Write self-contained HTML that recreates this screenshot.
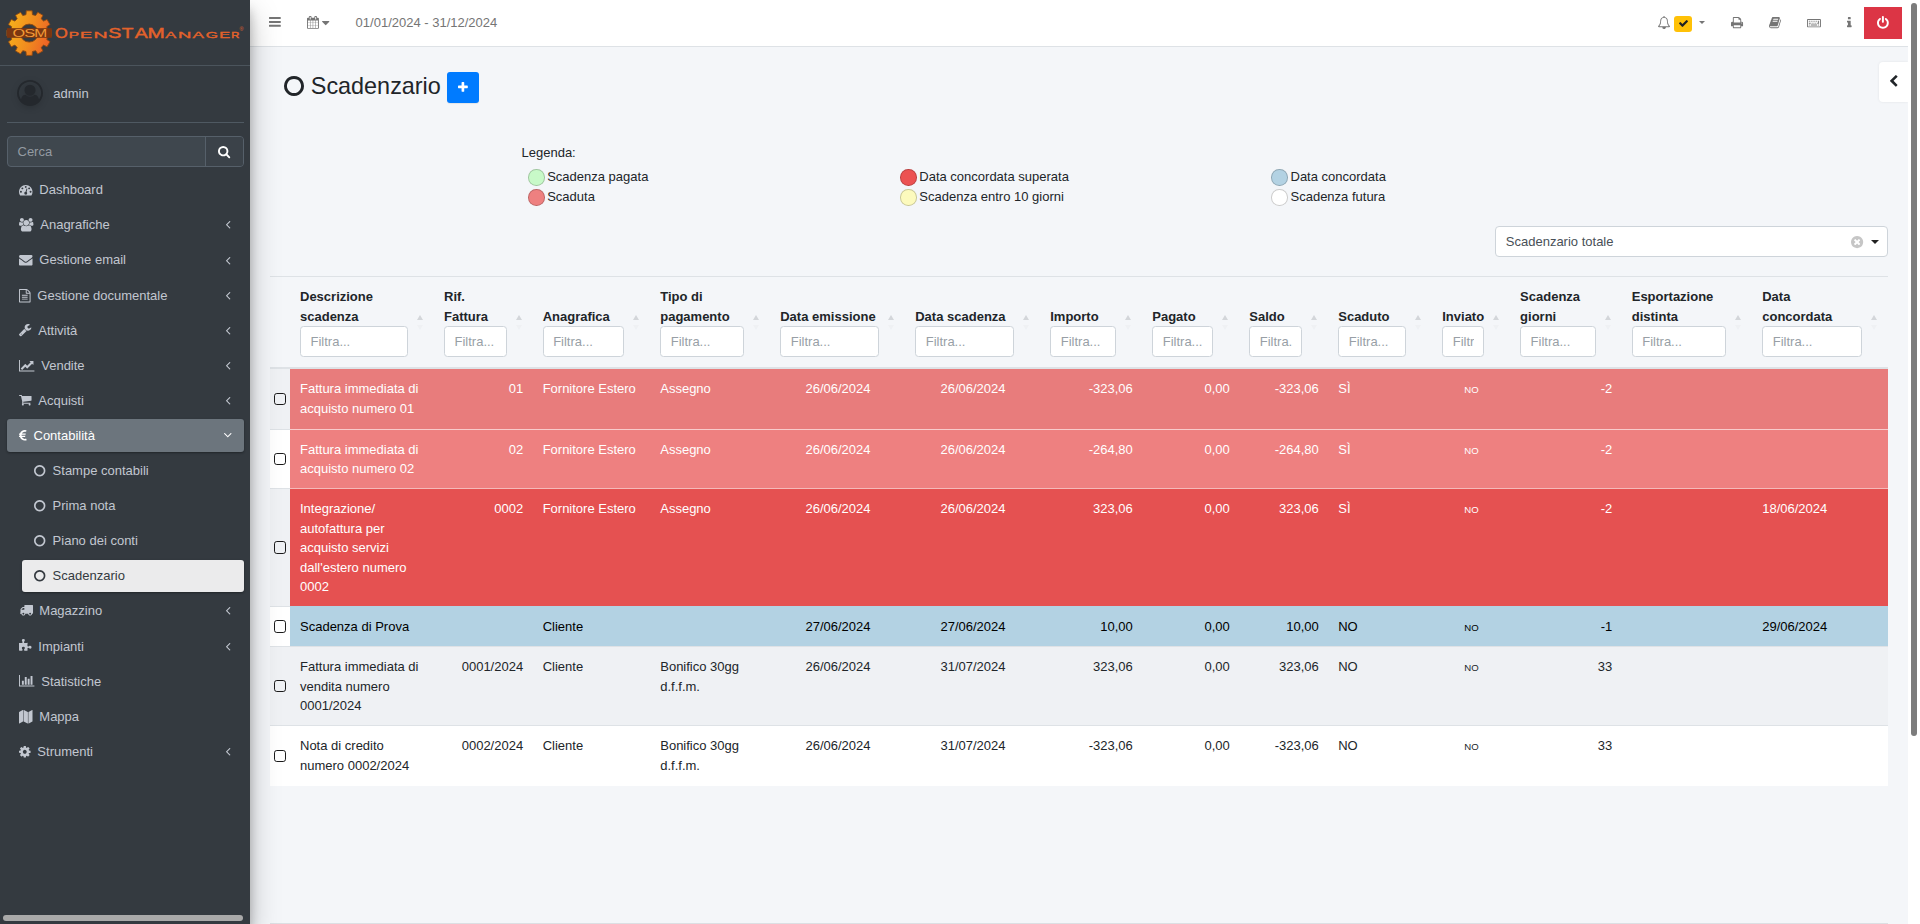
<!DOCTYPE html>
<html lang="it">
<head>
<meta charset="utf-8">
<title>Scadenzario - OpenSTAManager</title>
<style>
*{box-sizing:border-box}
html,body{margin:0;padding:0}
html{font-size:13px}
body{width:1920px;height:924px;overflow:hidden;position:relative;background:#f4f6f9;font-family:"Liberation Sans",sans-serif;font-size:13px;line-height:19.5px;color:#212529}
svg{display:block;overflow:visible}
.abs{position:absolute}
/* ---------- sidebar ---------- */
#sidebar{position:absolute;left:0;top:0;width:250px;height:924px;background:#343a40;z-index:5;box-shadow:0 14px 28px rgba(0,0,0,.25),0 10px 10px rgba(0,0,0,.22)}
#brand{position:absolute;left:0;top:0;width:250px;height:66px;border-bottom:1px solid #4b545c}
#userp{position:absolute;left:7px;top:66px;width:237px;height:57px;border-bottom:1px solid #4f5962}
#userp .name{position:absolute;left:46.3px;top:18px;color:#c2c7d0;font-size:13px;line-height:20px}
#search{position:absolute;left:7px;top:136px;width:237px;height:31px;border:1px solid #56606a;border-radius:4px;background:#3f474e}
#search .ph{position:absolute;left:9.5px;top:4.5px;line-height:20px;color:#949ba2;font-size:13px}
#search .btn{position:absolute;right:0;top:0;width:38.5px;height:29px;border-left:1px solid #56606a;background:#3b4249;border-radius:0 3px 3px 0}
a.nav{display:block;text-decoration:none;cursor:pointer}
.nav{position:absolute;left:7px;width:237px;height:32.5px;border-radius:3px;color:#c2c7d0;font-size:13px;line-height:20px}
.nav .t{position:absolute;top:7.1px;white-space:nowrap}
.nav.open{background:#6c757d;color:#fff;box-shadow:0 1px 3px rgba(0,0,0,.12),0 1px 2px rgba(0,0,0,.24)}
.nav.sub{left:22px;width:222px}
.nav.sub.act{background:rgba(255,255,255,.9);color:#343a40;box-shadow:0 1px 3px rgba(0,0,0,.12),0 1px 2px rgba(0,0,0,.24);margin-top:1.1px;height:31.8px}
.nav.sub.act .t,.nav.sub.act svg{margin-top:-1.1px}
.nav.open{height:33.2px}
#sscroll{position:absolute;left:3px;top:915px;width:240px;height:6px;border-radius:3px;background:#a9a9a9}
/* ---------- navbar ---------- */
#navbar{position:absolute;left:250px;top:0;width:1658px;height:47px;background:#fff;border-bottom:1px solid #dee2e6;z-index:3}
#navbar .date{position:absolute;left:105.6px;top:12.6px;line-height:20px;color:#757575;font-size:13px;white-space:nowrap}
#vscroll{position:absolute;left:1908px;top:0;width:12px;height:924px;background:#fff;z-index:4}
#vscroll i{position:absolute;left:3px;top:3px;width:6px;height:732.5px;border-radius:3px;background:#7c7c7c}
/* ---------- content ---------- */
#content{position:absolute;left:250px;top:47px;width:1658px;height:877px;background:#f4f6f9}
#content h1{position:absolute;left:60.8px;top:22px;margin:0;font-size:23.4px;line-height:35px;font-weight:400;color:#212529;white-space:nowrap}
#addbtn{position:absolute;border:0;padding:0;margin:0;display:block;font:inherit;left:197px;top:25px;width:32px;height:31px;border-radius:3px;background:#007bff;box-shadow:0 1px 1px rgba(0,0,0,.075)}
#ctrl{position:absolute;left:1629px;top:15px;width:29px;height:40px;background:#fff;border-radius:4px 0 0 4px;box-shadow:0 0 3px rgba(0,0,0,.08)}
.lg{position:absolute;white-space:nowrap;line-height:20px}
.dot{position:absolute;width:16.5px;height:16.5px;border-radius:50%;border:1px solid rgba(0,0,0,.2)}
#sel{position:absolute;left:1245px;top:179.4px;width:392.5px;height:30.2px;background:#fff;border:1px solid #ced4da;border-radius:4px}
#sel .v{position:absolute;left:9.8px;top:4.4px;line-height:20px;color:#495057;white-space:nowrap}
#tbl{position:absolute;left:20px;top:229.1px;width:1617.75px;border-collapse:separate;border-spacing:0;table-layout:fixed;background:#fff}
#tbl th{background:#f4f6f9;border-top:1px solid #dee2e6;border-bottom:2px solid #dee2e6;padding:9.75px 26.1px 10.25px 9.75px;vertical-align:bottom;text-align:left;font-weight:700;color:#212529;position:relative;line-height:20px}
#tbl th .f{display:block;width:100%;height:31.25px;margin-top:-1px;border:1px solid #ced4da;border-radius:3.5px;background:#fff;font-weight:400;color:#989fa6;padding:4.875px 8.75px 0 9.5px;white-space:nowrap;line-height:19.5px}
#tbl th .f b{display:block;font-weight:400;overflow:hidden;white-space:nowrap}
#tbl th .su,#tbl th .sd{position:absolute;right:11.2px;width:0;height:0;border-left:3.6px solid transparent;border-right:3.6px solid transparent}
#tbl th .su{bottom:47.3px;border-bottom:5.8px solid #d3d6da}
#tbl th .sd{bottom:37.3px;border-top:5.8px solid #eff1f4}
#tbl td{border-top:1px solid #dee2e6;padding:9.75px 9.75px 7px;vertical-align:top;line-height:19.5px;overflow:hidden}
#tbl tr:first-child td{border-top:0}
#tbl td.c{padding:0;vertical-align:middle;text-align:center}
#tbl td.r{text-align:right}
#tbl td.m{text-align:center}
#tbl tr.odd td{background:#eff1f4}
#tbl tr.k1 td+td{background:#e87c7c;color:#fff;border-top-color:#f6c9c9}
#tbl tr.k2 td+td{background:#ee8080;color:#fff;border-top-color:#f8cccc}
#tbl tr.k3 td+td{background:#e55151;color:#fff;border-top-color:#f5b9b9}
#tbl tr.k4 td+td{background:#b3d2e3;color:#000;border-top-color:#b3d2e3}
.cb{display:inline-block;width:12.4px;height:12.4px;border:1.5px solid #1b1b1b;border-radius:2.8px;background:transparent;vertical-align:middle;position:relative;top:-1px;left:0}
.sm{font-size:9.6px;letter-spacing:0}
#fline{position:absolute;left:20px;top:876px;width:1618px;height:1px;background:#dcdfe3}

</style>
</head>
<body>
<main id="content">
<svg class="abs" style="left:34.00px;top:28.50px;" width="20.00" height="20.00" viewBox="0 -1408 1536 1536" fill="#212529"><path transform="scale(1,-1)" d="M768 1184q-148 0 -273 -73t-198 -198t-73 -273t73 -273t198 -198t273 -73t273 73t198 198t73 273t-73 273t-198 198t-273 73zM1536 640q0 -209 -103 -385.5t-279.5 -279.5t-385.5 -103t-385.5 103t-279.5 279.5t-103 385.5t103 385.5t279.5 279.5t385.5 103t385.5 -103 t279.5 -279.5t103 -385.5z"/></svg>
<h1>Scadenzario</h1>
<button id="addbtn"><svg class="abs" style="left:11.20px;top:9.80px;" width="9.80" height="9.80" viewBox="0 -1408 1408 1408" fill="#fff"><path transform="scale(1,-1)" d="M1408 800v-192q0 -40 -28 -68t-68 -28h-416v-416q0 -40 -28 -68t-68 -28h-192q-40 0 -68 28t-28 68v416h-416q-40 0 -68 28t-28 68v192q0 40 28 68t68 28h416v416q0 40 28 68t68 28h192q40 0 68 -28t28 -68v-416h416q40 0 68 -28t28 -68z"/></svg></button>
<div id="ctrl"><svg class="abs" style="left:11.00px;top:13.30px;" width="7.52" height="11.69" viewBox="154 -1510 1036 1612" fill="#212529"><path transform="scale(1,-1)" d="M1171 1235l-531 -531l531 -531q19 -19 19 -45t-19 -45l-166 -166q-19 -19 -45 -19t-45 19l-742 742q-19 19 -19 45t19 45l742 742q19 19 45 19t45 -19l166 -166q19 -19 19 -45t-19 -45z"/></svg></div>
<span class="lg" style="left:271.5px;top:95.6px">Legenda:</span>
<span class="dot" style="left:278.1px;top:122.0px;background:#c8f9c8"></span>
<span class="lg" style="left:297.2px;top:119.6px">Scadenza pagata</span>
<span class="dot" style="left:278.1px;top:142.3px;background:#ee8080"></span>
<span class="lg" style="left:297.2px;top:139.9px">Scaduta</span>
<span class="dot" style="left:650.2px;top:122.0px;background:#ec5252"></span>
<span class="lg" style="left:669.3px;top:119.6px">Data concordata superata</span>
<span class="dot" style="left:650.2px;top:142.3px;background:#fcfabd"></span>
<span class="lg" style="left:669.3px;top:139.9px">Scadenza entro 10 giorni</span>
<span class="dot" style="left:1021.4px;top:122.0px;background:#b3d2e3"></span>
<span class="lg" style="left:1040.5px;top:119.6px">Data concordata</span>
<span class="dot" style="left:1021.4px;top:142.3px;background:#ffffff"></span>
<span class="lg" style="left:1040.5px;top:139.9px">Scadenza futura</span>
<div id="sel"><span class="v">Scadenzario totale</span><svg class="abs" style="left:354.70px;top:8.50px;" width="12.20" height="12.20" viewBox="0 -1408 1536 1536" fill="#c6c6c6"><path transform="scale(1,-1)" d="M1149 414q0 26 -19 45l-181 181l181 181q19 19 19 45q0 27 -19 46l-90 90q-19 19 -46 19q-26 0 -45 -19l-181 -181l-181 181q-19 19 -45 19q-27 0 -46 -19l-90 -90q-19 -19 -19 -46q0 -26 19 -45l181 -181l-181 -181q-19 -19 -19 -45q0 -27 19 -46l90 -90q19 -19 46 -19 q26 0 45 19l181 181l181 -181q19 -19 45 -19q27 0 46 19l90 90q19 19 19 46zM1536 640q0 -209 -103 -385.5t-279.5 -279.5t-385.5 -103t-385.5 103t-279.5 279.5t-103 385.5t103 385.5t279.5 279.5t385.5 103t385.5 -103t279.5 -279.5t103 -385.5z"/></svg><span class="abs" style="left:375.4px;top:12.6px;width:0;height:0;border-left:4px solid transparent;border-right:4px solid transparent;border-top:4.6px solid #222"></span></div>
<table id="tbl"><colgroup><col style="width:20.25px"><col style="width:144px"><col style="width:98.65px"><col style="width:117.6px"><col style="width:120px"><col style="width:135px"><col style="width:135px"><col style="width:102px"><col style="width:97px"><col style="width:89px"><col style="width:104px"><col style="width:77.85px"><col style="width:111.65px"><col style="width:130.5px"><col style="width:135.25px"></colgroup><thead><tr><th style="padding:0"></th><th>Descrizione scadenza<span class="f"><b>Filtra...</b></span><i class="su"></i><i class="sd"></i></th><th>Rif. Fattura<span class="f"><b>Filtra...</b></span><i class="su"></i><i class="sd"></i></th><th>Anagrafica<span class="f"><b>Filtra...</b></span><i class="su"></i><i class="sd"></i></th><th>Tipo di pagamento<span class="f"><b>Filtra...</b></span><i class="su"></i><i class="sd"></i></th><th>Data emissione<span class="f"><b>Filtra...</b></span><i class="su"></i><i class="sd"></i></th><th>Data scadenza<span class="f"><b>Filtra...</b></span><i class="su"></i><i class="sd"></i></th><th>Importo<span class="f"><b>Filtra...</b></span><i class="su"></i><i class="sd"></i></th><th>Pagato<span class="f"><b>Filtra...</b></span><i class="su"></i><i class="sd"></i></th><th>Saldo<span class="f"><b>Filtra...</b></span><i class="su"></i><i class="sd"></i></th><th>Scaduto<span class="f"><b>Filtra...</b></span><i class="su"></i><i class="sd"></i></th><th>Inviato<span class="f"><b>Filtra...</b></span><i class="su"></i><i class="sd"></i></th><th>Scadenza giorni<span class="f"><b>Filtra...</b></span><i class="su"></i><i class="sd"></i></th><th>Esportazione distinta<span class="f"><b>Filtra...</b></span><i class="su"></i><i class="sd"></i></th><th>Data concordata<span class="f"><b>Filtra...</b></span><i class="su"></i><i class="sd"></i></th></tr></thead><tbody><tr class="odd k1" style="height:59.5px"><td class="c"><span class="cb"></span></td><td>Fattura immediata di acquisto numero 01</td><td class="r">01</td><td>Fornitore Estero</td><td>Assegno</td><td class="m">26/06/2024</td><td class="m">26/06/2024</td><td class="r">-323,06</td><td class="r">0,00</td><td class="r">-323,06</td><td>SÌ</td><td class="m"><span class="sm">NO</span></td><td class="r">-2</td><td></td><td></td></tr><tr class="even k2" style="height:59.5px"><td class="c"><span class="cb"></span></td><td>Fattura immediata di acquisto numero 02</td><td class="r">02</td><td>Fornitore Estero</td><td>Assegno</td><td class="m">26/06/2024</td><td class="m">26/06/2024</td><td class="r">-264,80</td><td class="r">0,00</td><td class="r">-264,80</td><td>SÌ</td><td class="m"><span class="sm">NO</span></td><td class="r">-2</td><td></td><td></td></tr><tr class="odd k3" style="height:118px"><td class="c"><span class="cb"></span></td><td>Integrazione/ autofattura per acquisto servizi dall'estero numero 0002</td><td class="r">0002</td><td>Fornitore Estero</td><td>Assegno</td><td class="m">26/06/2024</td><td class="m">26/06/2024</td><td class="r">323,06</td><td class="r">0,00</td><td class="r">323,06</td><td>SÌ</td><td class="m"><span class="sm">NO</span></td><td class="r">-2</td><td></td><td>18/06/2024</td></tr><tr class="even k4" style="height:40px"><td class="c"><span class="cb"></span></td><td>Scadenza di Prova</td><td class="r"></td><td>Cliente</td><td></td><td class="m">27/06/2024</td><td class="m">27/06/2024</td><td class="r">10,00</td><td class="r">0,00</td><td class="r">10,00</td><td>NO</td><td class="m"><span class="sm">NO</span></td><td class="r">-1</td><td></td><td>29/06/2024</td></tr><tr class="odd" style="height:79px"><td class="c"><span class="cb"></span></td><td>Fattura immediata di vendita numero 0001/2024</td><td class="r">0001/2024</td><td>Cliente</td><td>Bonifico 30gg d.f.f.m.</td><td class="m">26/06/2024</td><td class="m">31/07/2024</td><td class="r">323,06</td><td class="r">0,00</td><td class="r">323,06</td><td>NO</td><td class="m"><span class="sm">NO</span></td><td class="r">33</td><td></td><td></td></tr><tr class="even" style="height:60.5px"><td class="c"><span class="cb"></span></td><td>Nota di credito numero 0002/2024</td><td class="r">0002/2024</td><td>Cliente</td><td>Bonifico 30gg d.f.f.m.</td><td class="m">26/06/2024</td><td class="m">31/07/2024</td><td class="r">-323,06</td><td class="r">0,00</td><td class="r">-323,06</td><td>NO</td><td class="m"><span class="sm">NO</span></td><td class="r">33</td><td></td><td></td></tr></tbody></table>
<div id="fline"></div>
</main>
<nav id="navbar">
<svg class="abs" style="left:19.20px;top:16.90px;" width="11.80" height="9.83" viewBox="0 -1280 1536 1280" fill="#757575"><path transform="scale(1,-1)" d="M1536 192v-128q0 -26 -19 -45t-45 -19h-1408q-26 0 -45 19t-19 45v128q0 26 19 45t45 19h1408q26 0 45 -19t19 -45zM1536 704v-128q0 -26 -19 -45t-45 -19h-1408q-26 0 -45 19t-19 45v128q0 26 19 45t45 19h1408q26 0 45 -19t19 -45zM1536 1216v-128q0 -26 -19 -45 t-45 -19h-1408q-26 0 -45 19t-19 45v128q0 26 19 45t45 19h1408q26 0 45 -19t19 -45z"/></svg>
<svg class="abs" style="left:56.60px;top:16.00px;" width="11.90" height="12.82" viewBox="0 -1536 1664 1792" fill="#757575"><path transform="scale(1,-1)" d="M128 -128h288v288h-288v-288zM480 -128h320v288h-320v-288zM128 224h288v320h-288v-320zM480 224h320v320h-320v-320zM128 608h288v288h-288v-288zM864 -128h320v288h-320v-288zM480 608h320v288h-320v-288zM1248 -128h288v288h-288v-288zM864 224h320v320h-320v-320z M512 1088v288q0 13 -9.5 22.5t-22.5 9.5h-64q-13 0 -22.5 -9.5t-9.5 -22.5v-288q0 -13 9.5 -22.5t22.5 -9.5h64q13 0 22.5 9.5t9.5 22.5zM1248 224h288v320h-288v-320zM864 608h320v288h-320v-288zM1248 608h288v288h-288v-288zM1280 1088v288q0 13 -9.5 22.5t-22.5 9.5h-64 q-13 0 -22.5 -9.5t-9.5 -22.5v-288q0 -13 9.5 -22.5t22.5 -9.5h64q13 0 22.5 9.5t9.5 22.5zM1664 1152v-1280q0 -52 -38 -90t-90 -38h-1408q-52 0 -90 38t-38 90v1280q0 52 38 90t90 38h128v96q0 66 47 113t113 47h64q66 0 113 -47t47 -113v-96h384v96q0 66 47 113t113 47 h64q66 0 113 -47t47 -113v-96h128q52 0 90 -38t38 -90z"/></svg>
<svg class="abs" style="left:72.40px;top:20.70px;" width="7.40" height="4.16" viewBox="0 -896 1024 576" fill="#757575"><path transform="scale(1,-1)" d="M1024 832q0 -26 -19 -45l-448 -448q-19 -19 -45 -19t-45 19l-448 448q-19 19 -19 45t19 45t45 19h896q26 0 45 -19t19 -45z"/></svg>
<span class="date">01/01/2024 - 31/12/2024</span>
<svg class="abs" style="left:1407.60px;top:15.80px;" width="12.07" height="13.00" viewBox="64 -1536 1664 1792" fill="#757575"><path transform="scale(1,-1)" d="M912 -160q0 16 -16 16q-59 0 -101.5 42.5t-42.5 101.5q0 16 -16 16t-16 -16q0 -73 51.5 -124.5t124.5 -51.5q16 0 16 16zM246 128h1300q-266 300 -266 832q0 51 -24 105t-69 103t-121.5 80.5t-169.5 31.5t-169.5 -31.5t-121.5 -80.5t-69 -103t-24 -105q0 -532 -266 -832z M1728 128q0 -52 -38 -90t-90 -38h-448q0 -106 -75 -181t-181 -75t-181 75t-75 181h-448q-52 0 -90 38t-38 90q50 42 91 88t85 119.5t74.5 158.5t50 206t19.5 260q0 152 117 282.5t307 158.5q-8 19 -8 39q0 40 28 68t68 28t68 -28t28 -68q0 -20 -8 -39q190 -28 307 -158.5 t117 -282.5q0 -139 19.5 -260t50 -206t74.5 -158.5t85 -119.5t91 -88z"/></svg>
<span class="abs" style="left:1424.2px;top:16.2px;width:17.8px;height:15.5px;border-radius:3px;background:#ffc107"></span>
<svg class="abs" style="left:1428.80px;top:19.90px;" width="9.00" height="6.90" viewBox="121 -1202 1550 1188" fill="#1f2225"><path transform="scale(1,-1)" d="M1671 970q0 -40 -28 -68l-724 -724l-136 -136q-28 -28 -68 -28t-68 28l-136 136l-362 362q-28 28 -28 68t28 68l136 136q28 28 68 28t68 -28l294 -295l656 657q28 28 68 28t68 -28l136 -136q28 -28 28 -68z"/></svg>
<span class="abs" style="left:1448.6px;top:20.8px;width:0;height:0;border-left:3.6px solid transparent;border-right:3.6px solid transparent;border-top:3.7px solid #757575"></span>
<svg class="abs" style="left:1480.80px;top:16.70px;" width="12.07" height="11.14" viewBox="0 -1408 1664 1536" fill="#757575"><path transform="scale(1,-1)" d="M384 0h896v256h-896v-256zM384 640h896v384h-160q-40 0 -68 28t-28 68v160h-640v-640zM1536 576q0 26 -19 45t-45 19t-45 -19t-19 -45t19 -45t45 -19t45 19t19 45zM1664 576v-416q0 -13 -9.5 -22.5t-22.5 -9.5h-224v-160q0 -40 -28 -68t-68 -28h-960q-40 0 -68 28t-28 68 v160h-224q-13 0 -22.5 9.5t-9.5 22.5v416q0 79 56.5 135.5t135.5 56.5h64v544q0 40 28 68t68 28h672q40 0 88 -20t76 -48l152 -152q28 -28 48 -76t20 -88v-256h64q79 0 135.5 -56.5t56.5 -135.5z"/></svg>
<svg class="abs" style="left:1519.20px;top:16.70px;" width="12.08" height="11.14" viewBox="-1 -1408 1665 1536" fill="#757575"><path transform="scale(1,-1)" d="M1639 1058q40 -57 18 -129l-275 -906q-19 -64 -76.5 -107.5t-122.5 -43.5h-923q-77 0 -148.5 53.5t-99.5 131.5q-24 67 -2 127q0 4 3 27t4 37q1 8 -3 21.5t-3 19.5q2 11 8 21t16.5 23.5t16.5 23.5q23 38 45 91.5t30 91.5q3 10 0.5 30t-0.5 28q3 11 17 28t17 23 q21 36 42 92t25 90q1 9 -2.5 32t0.5 28q4 13 22 30.5t22 22.5q19 26 42.5 84.5t27.5 96.5q1 8 -3 25.5t-2 26.5q2 8 9 18t18 23t17 21q8 12 16.5 30.5t15 35t16 36t19.5 32t26.5 23.5t36 11.5t47.5 -5.5l-1 -3q38 9 51 9h761q74 0 114 -56t18 -130l-274 -906 q-36 -119 -71.5 -153.5t-128.5 -34.5h-869q-27 0 -38 -15q-11 -16 -1 -43q24 -70 144 -70h923q29 0 56 15.5t35 41.5l300 987q7 22 5 57q38 -15 59 -43zM575 1056q-4 -13 2 -22.5t20 -9.5h608q13 0 25.5 9.5t16.5 22.5l21 64q4 13 -2 22.5t-20 9.5h-608q-13 0 -25.5 -9.5 t-16.5 -22.5zM492 800q-4 -13 2 -22.5t20 -9.5h608q13 0 25.5 9.5t16.5 22.5l21 64q4 13 -2 22.5t-20 9.5h-608q-13 0 -25.5 -9.5t-16.5 -22.5z"/></svg>
<svg class="abs" style="left:1556.80px;top:18.80px;" width="13.93" height="8.36" viewBox="0 -1152 1920 1152" fill="#757575"><path transform="scale(1,-1)" d="M384 368v-96q0 -16 -16 -16h-96q-16 0 -16 16v96q0 16 16 16h96q16 0 16 -16zM512 624v-96q0 -16 -16 -16h-224q-16 0 -16 16v96q0 16 16 16h224q16 0 16 -16zM384 880v-96q0 -16 -16 -16h-96q-16 0 -16 16v96q0 16 16 16h96q16 0 16 -16zM1408 368v-96q0 -16 -16 -16 h-864q-16 0 -16 16v96q0 16 16 16h864q16 0 16 -16zM768 624v-96q0 -16 -16 -16h-96q-16 0 -16 16v96q0 16 16 16h96q16 0 16 -16zM640 880v-96q0 -16 -16 -16h-96q-16 0 -16 16v96q0 16 16 16h96q16 0 16 -16zM1024 624v-96q0 -16 -16 -16h-96q-16 0 -16 16v96q0 16 16 16 h96q16 0 16 -16zM896 880v-96q0 -16 -16 -16h-96q-16 0 -16 16v96q0 16 16 16h96q16 0 16 -16zM1280 624v-96q0 -16 -16 -16h-96q-16 0 -16 16v96q0 16 16 16h96q16 0 16 -16zM1664 368v-96q0 -16 -16 -16h-96q-16 0 -16 16v96q0 16 16 16h96q16 0 16 -16zM1152 880v-96 q0 -16 -16 -16h-96q-16 0 -16 16v96q0 16 16 16h96q16 0 16 -16zM1408 880v-96q0 -16 -16 -16h-96q-16 0 -16 16v96q0 16 16 16h96q16 0 16 -16zM1664 880v-352q0 -16 -16 -16h-224q-16 0 -16 16v96q0 16 16 16h112v240q0 16 16 16h96q16 0 16 -16zM1792 128v896h-1664v-896 h1664zM1920 1024v-896q0 -53 -37.5 -90.5t-90.5 -37.5h-1664q-53 0 -90.5 37.5t-37.5 90.5v896q0 53 37.5 90.5t90.5 37.5h1664q53 0 90.5 -37.5t37.5 -90.5z"/></svg>
<svg class="abs" style="left:1596.80px;top:16.60px;" width="4.64" height="10.21" viewBox="0 -1408 640 1408" fill="#757575"><path transform="scale(1,-1)" d="M640 192v-128q0 -26 -19 -45t-45 -19h-512q-26 0 -45 19t-19 45v128q0 26 19 45t45 19h64v384h-64q-26 0 -45 19t-19 45v128q0 26 19 45t45 19h384q26 0 45 -19t19 -45v-576h64q26 0 45 -19t19 -45zM512 1344v-192q0 -26 -19 -45t-45 -19h-256q-26 0 -45 19t-19 45v192 q0 26 19 45t45 19h256q26 0 45 -19t19 -45z"/></svg>
<span class="abs" style="left:1614px;top:7px;width:38px;height:32px;background:#dc3545"></span>
<svg class="abs" style="left:1627.20px;top:15.80px;" width="11.80" height="12.78" viewBox="0 -1536 1536 1664" fill="#fff"><path transform="scale(1,-1)" d="M1536 640q0 -156 -61 -298t-164 -245t-245 -164t-298 -61t-298 61t-245 164t-164 245t-61 298q0 182 80.5 343t226.5 270q43 32 95.5 25t83.5 -50q32 -42 24.5 -94.5t-49.5 -84.5q-98 -74 -151.5 -181t-53.5 -228q0 -104 40.5 -198.5t109.5 -163.5t163.5 -109.5 t198.5 -40.5t198.5 40.5t163.5 109.5t109.5 163.5t40.5 198.5q0 121 -53.5 228t-151.5 181q-42 32 -49.5 84.5t24.5 94.5q31 43 84 50t95 -25q146 -109 226.5 -270t80.5 -343zM896 1408v-640q0 -52 -38 -90t-90 -38t-90 38t-38 90v640q0 52 38 90t90 38t90 -38t38 -90z"/></svg>
</nav>
<div id="vscroll"><i></i></div>
<aside id="sidebar">
<div id="brand"><svg class="abs" style="left:0;top:0" width="250" height="65" viewBox="0 0 250 65">
<defs><linearGradient id="gg" x1="0" y1="0.35" x2="1" y2="0.65"><stop offset="0" stop-color="#f7b21b"/><stop offset="0.55" stop-color="#f08a1f"/><stop offset="1" stop-color="#ed5e27"/></linearGradient></defs>
<path d="M25.98 14.68 L26.26 10.79 L32.14 10.79 L32.42 14.68 L35.63 15.54 L37.81 12.31 L42.90 15.25 L41.20 18.75 L43.55 21.10 L47.05 19.40 L49.99 24.49 L46.76 26.67 L47.62 29.88 L51.51 30.16 L51.51 36.04 L47.62 36.32 L46.76 39.53 L49.99 41.71 L47.05 46.80 L43.55 45.10 L41.20 47.45 L42.90 50.95 L37.81 53.89 L35.63 50.66 L32.42 51.52 L32.14 55.41 L26.26 55.41 L25.98 51.52 L22.77 50.66 L20.59 53.89 L15.50 50.95 L17.20 47.45 L14.85 45.10 L11.35 46.80 L8.41 41.71 L11.64 39.53 L10.78 36.32 L6.89 36.04 L6.89 30.16 L10.78 29.88 L11.64 26.67 L8.41 24.49 L11.35 19.40 L14.85 21.10 L17.20 18.75 L15.50 15.25 L20.59 12.31 L22.77 15.54 Z M20.20 33.10 a9.0 9.0 0 1 0 18.0 0 a9.0 9.0 0 1 0 -18.0 0 Z" fill="url(#gg)" fill-rule="evenodd" stroke="#8f4a12" stroke-width="0.9" stroke-linejoin="round"/>
<rect x="7" y="28.2" width="44.8" height="9.6" fill="#7a3611"/>
<g font-family="Liberation Sans, sans-serif" fill="#f39a36"><text vector-effect="non-scaling-stroke" transform="translate(12.43,37.0) scale(1.416,1)" font-size="11.48">O</text><text vector-effect="non-scaling-stroke" transform="translate(24.14,37.0) scale(1.452,1)" font-size="11.48">S</text><text vector-effect="non-scaling-stroke" transform="translate(34.32,37.0) scale(1.354,1)" font-size="11.48">M</text></g>
<g font-family="Liberation Sans, sans-serif" fill="#e3622b" stroke="#e3622b" stroke-width="0.5"><text vector-effect="non-scaling-stroke" transform="translate(54.92,37.8) scale(1.188,1)" font-size="13.81">O</text><text vector-effect="non-scaling-stroke" transform="translate(68.84,37.8) scale(1.656,1)" font-size="9.30">P</text><text vector-effect="non-scaling-stroke" transform="translate(80.12,37.8) scale(1.944,1)" font-size="9.30">E</text><text vector-effect="non-scaling-stroke" transform="translate(93.50,37.8) scale(2.098,1)" font-size="9.30">N</text><text vector-effect="non-scaling-stroke" transform="translate(108.31,37.8) scale(1.422,1)" font-size="13.81">S</text><text vector-effect="non-scaling-stroke" transform="translate(121.77,37.8) scale(1.383,1)" font-size="13.81">T</text><text vector-effect="non-scaling-stroke" transform="translate(134.66,37.8) scale(1.409,1)" font-size="13.81">A</text><text vector-effect="non-scaling-stroke" transform="translate(147.60,37.8) scale(1.505,1)" font-size="13.81">M</text><text vector-effect="non-scaling-stroke" transform="translate(165.37,37.8) scale(1.767,1)" font-size="9.30">A</text><text vector-effect="non-scaling-stroke" transform="translate(177.99,37.8) scale(1.982,1)" font-size="9.30">N</text><text vector-effect="non-scaling-stroke" transform="translate(192.47,37.8) scale(1.848,1)" font-size="9.30">A</text><text vector-effect="non-scaling-stroke" transform="translate(205.81,37.8) scale(1.696,1)" font-size="9.30">G</text><text vector-effect="non-scaling-stroke" transform="translate(219.27,37.8) scale(1.745,1)" font-size="9.30">E</text><text vector-effect="non-scaling-stroke" transform="translate(231.17,37.8) scale(1.213,1)" font-size="9.30">R</text>
<text x="239.4" y="30.6" font-size="5.4" stroke="none">®</text>
</g></svg></div>
<div id="userp"><svg class="abs" style="left:10.00px;top:13.80px;filter:drop-shadow(0 2px 3px rgba(0,0,0,.16))" width="26.00" height="26.00" viewBox="0 -1536 1792 1792" fill="#24282d"><path transform="scale(1,-1)" d="M896 1536q182 0 348 -71t286 -191t191 -286t71 -348q0 -181 -70.5 -347t-190.5 -286t-286 -191.5t-349 -71.5t-349 71t-285.5 191.5t-190.5 286t-71 347.5t71 348t191 286t286 191t348 71zM1515 185q149 205 149 455q0 156 -61 298t-164 245t-245 164t-298 61t-298 -61 t-245 -164t-164 -245t-61 -298q0 -250 149 -455q66 327 306 327q131 -128 313 -128t313 128q240 0 306 -327zM1280 832q0 159 -112.5 271.5t-271.5 112.5t-271.5 -112.5t-112.5 -271.5t112.5 -271.5t271.5 -112.5t271.5 112.5t112.5 271.5z"/></svg><span class="name">admin</span></div>
<div id="search"><span class="ph">Cerca</span><span class="btn"><svg class="abs" style="left:12.80px;top:8.60px;" width="12.26" height="12.26" viewBox="0 -1408 1664 1664" fill="#fff"><path transform="scale(1,-1)" d="M1152 704q0 185 -131.5 316.5t-316.5 131.5t-316.5 -131.5t-131.5 -316.5t131.5 -316.5t316.5 -131.5t316.5 131.5t131.5 316.5zM1664 -128q0 -52 -38 -90t-90 -38q-54 0 -90 38l-343 342q-179 -124 -399 -124q-143 0 -273.5 55.5t-225 150t-150 225t-55.5 273.5 t55.5 273.5t150 225t225 150t273.5 55.5t273.5 -55.5t225 -150t150 -225t55.5 -273.5q0 -220 -124 -399l343 -343q37 -37 37 -90z"/></svg></span></div>
<a class="nav " style="top:173.00px"><svg class="abs" style="left:12.10px;top:11.66px;" width="13.50" height="10.61" viewBox="0 -1280 1792 1408" fill="currentColor"><path transform="scale(1,-1)" d="M384 384q0 53 -37.5 90.5t-90.5 37.5t-90.5 -37.5t-37.5 -90.5t37.5 -90.5t90.5 -37.5t90.5 37.5t37.5 90.5zM576 832q0 53 -37.5 90.5t-90.5 37.5t-90.5 -37.5t-37.5 -90.5t37.5 -90.5t90.5 -37.5t90.5 37.5t37.5 90.5zM1004 351l101 382q6 26 -7.5 48.5t-38.5 29.5 t-48 -6.5t-30 -39.5l-101 -382q-60 -5 -107 -43.5t-63 -98.5q-20 -77 20 -146t117 -89t146 20t89 117q16 60 -6 117t-72 91zM1664 384q0 53 -37.5 90.5t-90.5 37.5t-90.5 -37.5t-37.5 -90.5t37.5 -90.5t90.5 -37.5t90.5 37.5t37.5 90.5zM1024 1024q0 53 -37.5 90.5 t-90.5 37.5t-90.5 -37.5t-37.5 -90.5t37.5 -90.5t90.5 -37.5t90.5 37.5t37.5 90.5zM1472 832q0 53 -37.5 90.5t-90.5 37.5t-90.5 -37.5t-37.5 -90.5t37.5 -90.5t90.5 -37.5t90.5 37.5t37.5 90.5zM1792 384q0 -261 -141 -483q-19 -29 -54 -29h-1402q-35 0 -54 29 q-141 221 -141 483q0 182 71 348t191 286t286 191t348 71t348 -71t286 -191t191 -286t71 -348z"/></svg><span class="t" style="left:32.30px">Dashboard</span></a>
<a class="nav " style="top:208.12px"><svg class="abs" style="left:12.10px;top:9.73px;" width="14.46" height="13.50" viewBox="0 -1536 1920 1792" fill="currentColor"><path transform="scale(1,-1)" d="M593 640q-162 -5 -265 -128h-134q-82 0 -138 40.5t-56 118.5q0 353 124 353q6 0 43.5 -21t97.5 -42.5t119 -21.5q67 0 133 23q-5 -37 -5 -66q0 -139 81 -256zM1664 3q0 -120 -73 -189.5t-194 -69.5h-874q-121 0 -194 69.5t-73 189.5q0 53 3.5 103.5t14 109t26.5 108.5 t43 97.5t62 81t85.5 53.5t111.5 20q10 0 43 -21.5t73 -48t107 -48t135 -21.5t135 21.5t107 48t73 48t43 21.5q61 0 111.5 -20t85.5 -53.5t62 -81t43 -97.5t26.5 -108.5t14 -109t3.5 -103.5zM640 1280q0 -106 -75 -181t-181 -75t-181 75t-75 181t75 181t181 75t181 -75 t75 -181zM1344 896q0 -159 -112.5 -271.5t-271.5 -112.5t-271.5 112.5t-112.5 271.5t112.5 271.5t271.5 112.5t271.5 -112.5t112.5 -271.5zM1920 671q0 -78 -56 -118.5t-138 -40.5h-134q-103 123 -265 128q81 117 81 256q0 29 -5 66q66 -23 133 -23q59 0 119 21.5t97.5 42.5 t43.5 21q124 0 124 -353zM1792 1280q0 -106 -75 -181t-181 -75t-181 75t-75 181t75 181t181 75t181 -75t75 -181z"/></svg><span class="t" style="left:33.26px">Anagrafiche</span><svg class="abs" style="left:218.60px;top:13.30px;" width="4.42" height="7.57" viewBox="45 -1075 582 998" fill="currentColor"><path transform="scale(1,-1)" d="M627 992q0 -13 -10 -23l-393 -393l393 -393q10 -10 10 -23t-10 -23l-50 -50q-10 -10 -23 -10t-23 10l-466 466q-10 10 -10 23t10 23l466 466q10 10 23 10t23 -10l50 -50q10 -10 10 -23z"/></svg></a>
<a class="nav " style="top:243.25px"><svg class="abs" style="left:12.10px;top:11.66px;" width="13.50" height="10.61" viewBox="0 -1280 1792 1408" fill="currentColor"><path transform="scale(1,-1)" d="M1792 826v-794q0 -66 -47 -113t-113 -47h-1472q-66 0 -113 47t-47 113v794q44 -49 101 -87q362 -246 497 -345q57 -42 92.5 -65.5t94.5 -48t110 -24.5h1h1q51 0 110 24.5t94.5 48t92.5 65.5q170 123 498 345q57 39 100 87zM1792 1120q0 -79 -49 -151t-122 -123 q-376 -261 -468 -325q-10 -7 -42.5 -30.5t-54 -38t-52 -32.5t-57.5 -27t-50 -9h-1h-1q-23 0 -50 9t-57.5 27t-52 32.5t-54 38t-42.5 30.5q-91 64 -262 182.5t-205 142.5q-62 42 -117 115.5t-55 136.5q0 78 41.5 130t118.5 52h1472q65 0 112.5 -47t47.5 -113z"/></svg><span class="t" style="left:32.30px">Gestione email</span><svg class="abs" style="left:218.60px;top:13.30px;" width="4.42" height="7.57" viewBox="45 -1075 582 998" fill="currentColor"><path transform="scale(1,-1)" d="M627 992q0 -13 -10 -23l-393 -393l393 -393q10 -10 10 -23t-10 -23l-50 -50q-10 -10 -23 -10t-23 10l-466 466q-10 10 -10 23t10 23l466 466q10 10 23 10t23 -10l50 -50q10 -10 10 -23z"/></svg></a>
<a class="nav " style="top:278.98px"><svg class="abs" style="left:12.10px;top:9.73px;" width="11.57" height="13.50" viewBox="0 -1536 1536 1792" fill="currentColor"><path transform="scale(1,-1)" d="M1468 1156q28 -28 48 -76t20 -88v-1152q0 -40 -28 -68t-68 -28h-1344q-40 0 -68 28t-28 68v1600q0 40 28 68t68 28h896q40 0 88 -20t76 -48zM1024 1400v-376h376q-10 29 -22 41l-313 313q-12 12 -41 22zM1408 -128v1024h-416q-40 0 -68 28t-28 68v416h-768v-1536h1280z M384 736q0 14 9 23t23 9h704q14 0 23 -9t9 -23v-64q0 -14 -9 -23t-23 -9h-704q-14 0 -23 9t-9 23v64zM1120 512q14 0 23 -9t9 -23v-64q0 -14 -9 -23t-23 -9h-704q-14 0 -23 9t-9 23v64q0 14 9 23t23 9h704zM1120 256q14 0 23 -9t9 -23v-64q0 -14 -9 -23t-23 -9h-704 q-14 0 -23 9t-9 23v64q0 14 9 23t23 9h704z"/></svg><span class="t" style="left:30.37px">Gestione documentale</span><svg class="abs" style="left:218.60px;top:13.30px;" width="4.42" height="7.57" viewBox="45 -1075 582 998" fill="currentColor"><path transform="scale(1,-1)" d="M627 992q0 -13 -10 -23l-393 -393l393 -393q10 -10 10 -23t-10 -23l-50 -50q-10 -10 -23 -10t-23 10l-466 466q-10 10 -10 23t10 23l466 466q10 10 23 10t23 -10l50 -50q10 -10 10 -23z"/></svg></a>
<a class="nav " style="top:313.50px"><svg class="abs" style="left:12.26px;top:10.69px;" width="12.36" height="12.38" viewBox="21 -1408 1641 1643" fill="currentColor"><path transform="scale(1,-1)" d="M384 64q0 26 -19 45t-45 19t-45 -19t-19 -45t19 -45t45 -19t45 19t19 45zM1028 484l-682 -682q-37 -37 -90 -37q-52 0 -91 37l-106 108q-38 36 -38 90q0 53 38 91l681 681q39 -98 114.5 -173.5t173.5 -114.5zM1662 919q0 -39 -23 -106q-47 -134 -164.5 -217.5 t-258.5 -83.5q-185 0 -316.5 131.5t-131.5 316.5t131.5 316.5t316.5 131.5q58 0 121.5 -16.5t107.5 -46.5q16 -11 16 -28t-16 -28l-293 -169v-224l193 -107q5 3 79 48.5t135.5 81t70.5 35.5q15 0 23.5 -10t8.5 -25z"/></svg><span class="t" style="left:31.34px">Attività</span><svg class="abs" style="left:218.60px;top:13.30px;" width="4.42" height="7.57" viewBox="45 -1075 582 998" fill="currentColor"><path transform="scale(1,-1)" d="M627 992q0 -13 -10 -23l-393 -393l393 -393q10 -10 10 -23t-10 -23l-50 -50q-10 -10 -23 -10t-23 10l-466 466q-10 10 -10 23t10 23l466 466q10 10 23 10t23 -10l50 -50q10 -10 10 -23z"/></svg></a>
<a class="nav " style="top:348.93px"><svg class="abs" style="left:12.10px;top:10.69px;" width="15.43" height="11.57" viewBox="0 -1408 2048 1536" fill="currentColor"><path transform="scale(1,-1)" d="M2048 0v-128h-2048v1536h128v-1408h1920zM1920 1248v-435q0 -21 -19.5 -29.5t-35.5 7.5l-121 121l-633 -633q-10 -10 -23 -10t-23 10l-233 233l-416 -416l-192 192l585 585q10 10 23 10t23 -10l233 -233l464 464l-121 121q-16 16 -7.5 35.5t29.5 19.5h435q14 0 23 -9 t9 -23z"/></svg><span class="t" style="left:34.23px">Vendite</span><svg class="abs" style="left:218.60px;top:13.30px;" width="4.42" height="7.57" viewBox="45 -1075 582 998" fill="currentColor"><path transform="scale(1,-1)" d="M627 992q0 -13 -10 -23l-393 -393l393 -393q10 -10 10 -23t-10 -23l-50 -50q-10 -10 -23 -10t-23 10l-466 466q-10 10 -10 23t10 23l466 466q10 10 23 10t23 -10l50 -50q10 -10 10 -23z"/></svg></a>
<a class="nav " style="top:383.75px"><svg class="abs" style="left:12.10px;top:11.66px;" width="12.54" height="10.61" viewBox="0 -1280 1664 1408" fill="currentColor"><path transform="scale(1,-1)" d="M640 0q0 -52 -38 -90t-90 -38t-90 38t-38 90t38 90t90 38t90 -38t38 -90zM1536 0q0 -52 -38 -90t-90 -38t-90 38t-38 90t38 90t90 38t90 -38t38 -90zM1664 1088v-512q0 -24 -16.5 -42.5t-40.5 -21.5l-1044 -122q13 -60 13 -70q0 -16 -24 -64h920q26 0 45 -19t19 -45 t-19 -45t-45 -19h-1024q-26 0 -45 19t-19 45q0 11 8 31.5t16 36t21.5 40t15.5 29.5l-177 823h-204q-26 0 -45 19t-19 45t19 45t45 19h256q16 0 28.5 -6.5t19.5 -15.5t13 -24.5t8 -26t5.5 -29.5t4.5 -26h1201q26 0 45 -19t19 -45z"/></svg><span class="t" style="left:31.34px">Acquisti</span><svg class="abs" style="left:218.60px;top:13.30px;" width="4.42" height="7.57" viewBox="45 -1075 582 998" fill="currentColor"><path transform="scale(1,-1)" d="M627 992q0 -13 -10 -23l-393 -393l393 -393q10 -10 10 -23t-10 -23l-50 -50q-10 -10 -23 -10t-23 10l-466 466q-10 10 -10 23t10 23l466 466q10 10 23 10t23 -10l50 -50q10 -10 10 -23z"/></svg></a>
<a class="nav open" style="top:418.88px"><svg class="abs" style="left:12.10px;top:10.69px;" width="7.62" height="10.61" viewBox="0 -1408 1012 1408" fill="currentColor"><path transform="scale(1,-1)" d="M976 229l35 -159q3 -12 -3 -22.5t-17 -14.5l-5 -1q-4 -2 -10.5 -3.5t-16 -4.5t-21.5 -5.5t-25.5 -5t-30 -5t-33.5 -4.5t-36.5 -3t-38.5 -1q-234 0 -409 130.5t-238 351.5h-95q-13 0 -22.5 9.5t-9.5 22.5v113q0 13 9.5 22.5t22.5 9.5h66q-2 57 1 105h-67q-14 0 -23 9 t-9 23v114q0 14 9 23t23 9h98q67 210 243.5 338t400.5 128q102 0 194 -23q11 -3 20 -15q6 -11 3 -24l-43 -159q-3 -13 -14 -19.5t-24 -2.5l-4 1q-4 1 -11.5 2.5l-17.5 3.5t-22.5 3.5t-26 3t-29 2.5t-29.5 1q-126 0 -226 -64t-150 -176h468q16 0 25 -12q10 -12 7 -26 l-24 -114q-5 -26 -32 -26h-488q-3 -37 0 -105h459q15 0 25 -12q9 -12 6 -27l-24 -112q-2 -11 -11 -18.5t-20 -7.5h-387q48 -117 149.5 -185.5t228.5 -68.5q18 0 36 1.5t33.5 3.5t29.5 4.5t24.5 5t18.5 4.5l12 3l5 2q13 5 26 -2q12 -7 15 -21z"/></svg><span class="t" style="left:26.51px">Contabilità</span><svg class="abs" style="left:217.20px;top:13.90px;" width="7.57" height="4.42" viewBox="77 -883 998 582" fill="currentColor"><path transform="scale(1,-1)" d="M1075 800q0 -13 -10 -23l-466 -466q-10 -10 -23 -10t-23 10l-466 466q-10 10 -10 23t10 23l50 50q10 10 23 10t23 -10l393 -393l393 393q10 10 23 10t23 -10l50 -50q10 -10 10 -23z"/></svg></a>
<a class="nav sub" style="top:454.00px"><svg class="abs" style="left:12.20px;top:10.60px;" width="11.40" height="11.40" viewBox="0 -1408 1536 1536" fill="currentColor"><path transform="scale(1,-1)" d="M768 1184q-148 0 -273 -73t-198 -198t-73 -273t73 -273t198 -198t273 -73t273 73t198 198t73 273t-73 273t-198 198t-273 73zM1536 640q0 -209 -103 -385.5t-279.5 -279.5t-385.5 -103t-385.5 103t-279.5 279.5t-103 385.5t103 385.5t279.5 279.5t385.5 103t385.5 -103 t279.5 -279.5t103 -385.5z"/></svg><span class="t" style="left:30.6px">Stampe contabili</span></a>
<a class="nav sub" style="top:489.12px"><svg class="abs" style="left:12.20px;top:10.60px;" width="11.40" height="11.40" viewBox="0 -1408 1536 1536" fill="currentColor"><path transform="scale(1,-1)" d="M768 1184q-148 0 -273 -73t-198 -198t-73 -273t73 -273t198 -198t273 -73t273 73t198 198t73 273t-73 273t-198 198t-273 73zM1536 640q0 -209 -103 -385.5t-279.5 -279.5t-385.5 -103t-385.5 103t-279.5 279.5t-103 385.5t103 385.5t279.5 279.5t385.5 103t385.5 -103 t279.5 -279.5t103 -385.5z"/></svg><span class="t" style="left:30.6px">Prima nota</span></a>
<a class="nav sub" style="top:524.25px"><svg class="abs" style="left:12.20px;top:10.60px;" width="11.40" height="11.40" viewBox="0 -1408 1536 1536" fill="currentColor"><path transform="scale(1,-1)" d="M768 1184q-148 0 -273 -73t-198 -198t-73 -273t73 -273t198 -198t273 -73t273 73t198 198t73 273t-73 273t-198 198t-273 73zM1536 640q0 -209 -103 -385.5t-279.5 -279.5t-385.5 -103t-385.5 103t-279.5 279.5t-103 385.5t103 385.5t279.5 279.5t385.5 103t385.5 -103 t279.5 -279.5t103 -385.5z"/></svg><span class="t" style="left:30.6px">Piano dei conti</span></a>
<a class="nav sub act" style="top:559.38px"><svg class="abs" style="left:12.20px;top:10.60px;" width="11.40" height="11.40" viewBox="0 -1408 1536 1536" fill="currentColor"><path transform="scale(1,-1)" d="M768 1184q-148 0 -273 -73t-198 -198t-73 -273t73 -273t198 -198t273 -73t273 73t198 198t73 273t-73 273t-198 198t-273 73zM1536 640q0 -209 -103 -385.5t-279.5 -279.5t-385.5 -103t-385.5 103t-279.5 279.5t-103 385.5t103 385.5t279.5 279.5t385.5 103t385.5 -103 t279.5 -279.5t103 -385.5z"/></svg><span class="t" style="left:30.6px">Scadenzario</span></a>
<a class="nav " style="top:593.60px"><svg class="abs" style="left:12.58px;top:11.66px;" width="13.02" height="10.61" viewBox="64 -1280 1728 1408" fill="currentColor"><path transform="scale(1,-1)" d="M640 128q0 52 -38 90t-90 38t-90 -38t-38 -90t38 -90t90 -38t90 38t38 90zM256 640h384v256h-158q-13 0 -22 -9l-195 -195q-9 -9 -9 -22v-30zM1536 128q0 52 -38 90t-90 38t-90 -38t-38 -90t38 -90t90 -38t90 38t38 90zM1792 1216v-1024q0 -15 -4 -26.5t-13.5 -18.5 t-16.5 -11.5t-23.5 -6t-22.5 -2t-25.5 0t-22.5 0.5q0 -106 -75 -181t-181 -75t-181 75t-75 181h-384q0 -106 -75 -181t-181 -75t-181 75t-75 181h-64q-3 0 -22.5 -0.5t-25.5 0t-22.5 2t-23.5 6t-16.5 11.5t-13.5 18.5t-4 26.5q0 26 19 45t45 19v320q0 8 -0.5 35t0 38 t2.5 34.5t6.5 37t14 30.5t22.5 30l198 198q19 19 50.5 32t58.5 13h160v192q0 26 19 45t45 19h1024q26 0 45 -19t19 -45z"/></svg><span class="t" style="left:32.30px">Magazzino</span><svg class="abs" style="left:218.60px;top:13.30px;" width="4.42" height="7.57" viewBox="45 -1075 582 998" fill="currentColor"><path transform="scale(1,-1)" d="M627 992q0 -13 -10 -23l-393 -393l393 -393q10 -10 10 -23t-10 -23l-50 -50q-10 -10 -23 -10t-23 10l-466 466q-10 10 -10 23t10 23l466 466q10 10 23 10t23 -10l50 -50q10 -10 10 -23z"/></svg></a>
<a class="nav " style="top:629.62px"><svg class="abs" style="left:12.10px;top:9.73px;" width="12.54" height="11.84" viewBox="0 -1536 1664 1572" fill="currentColor"><path transform="scale(1,-1)" d="M1664 438q0 -81 -44.5 -135t-123.5 -54q-41 0 -77.5 17.5t-59 38t-56.5 38t-71 17.5q-110 0 -110 -124q0 -39 16 -115t15 -115v-5q-22 0 -33 -1q-34 -3 -97.5 -11.5t-115.5 -13.5t-98 -5q-61 0 -103 26.5t-42 83.5q0 37 17.5 71t38 56.5t38 59t17.5 77.5q0 79 -54 123.5 t-135 44.5q-84 0 -143 -45.5t-59 -127.5q0 -43 15 -83t33.5 -64.5t33.5 -53t15 -50.5q0 -45 -46 -89q-37 -35 -117 -35q-95 0 -245 24q-9 2 -27.5 4t-27.5 4l-13 2q-1 0 -3 1q-2 0 -2 1v1024q2 -1 17.5 -3.5t34 -5t21.5 -3.5q150 -24 245 -24q80 0 117 35q46 44 46 89 q0 22 -15 50.5t-33.5 53t-33.5 64.5t-15 83q0 82 59 127.5t144 45.5q80 0 134 -44.5t54 -123.5q0 -41 -17.5 -77.5t-38 -59t-38 -56.5t-17.5 -71q0 -57 42 -83.5t103 -26.5q64 0 180 15t163 17v-2q-1 -2 -3.5 -17.5t-5 -34t-3.5 -21.5q-24 -150 -24 -245q0 -80 35 -117 q44 -46 89 -46q22 0 50.5 15t53 33.5t64.5 33.5t83 15q82 0 127.5 -59t45.5 -143z"/></svg><span class="t" style="left:31.34px">Impianti</span><svg class="abs" style="left:218.60px;top:13.30px;" width="4.42" height="7.57" viewBox="45 -1075 582 998" fill="currentColor"><path transform="scale(1,-1)" d="M627 992q0 -13 -10 -23l-393 -393l393 -393q10 -10 10 -23t-10 -23l-50 -50q-10 -10 -23 -10t-23 10l-466 466q-10 10 -10 23t10 23l466 466q10 10 23 10t23 -10l50 -50q10 -10 10 -23z"/></svg></a>
<a class="nav " style="top:664.75px"><svg class="abs" style="left:12.10px;top:10.69px;" width="15.43" height="11.57" viewBox="0 -1408 2048 1536" fill="currentColor"><path transform="scale(1,-1)" d="M640 640v-512h-256v512h256zM1024 1152v-1024h-256v1024h256zM2048 0v-128h-2048v1536h128v-1408h1920zM1408 896v-768h-256v768h256zM1792 1280v-1152h-256v1152h256z"/></svg><span class="t" style="left:34.23px">Statistiche</span></a>
<a class="nav " style="top:699.88px"><svg class="abs" style="left:12.10px;top:9.73px;" width="13.50" height="13.50" viewBox="0 -1536 1792 1792" fill="currentColor"><path transform="scale(1,-1)" d="M512 1536q13 0 22.5 -9.5t9.5 -22.5v-1472q0 -20 -17 -28l-480 -256q-7 -4 -15 -4q-13 0 -22.5 9.5t-9.5 22.5v1472q0 20 17 28l480 256q7 4 15 4zM1760 1536q13 0 22.5 -9.5t9.5 -22.5v-1472q0 -20 -17 -28l-480 -256q-7 -4 -15 -4q-13 0 -22.5 9.5t-9.5 22.5v1472 q0 20 17 28l480 256q7 4 15 4zM640 1536q8 0 14 -3l512 -256q18 -10 18 -29v-1472q0 -13 -9.5 -22.5t-22.5 -9.5q-8 0 -14 3l-512 256q-18 10 -18 29v1472q0 13 9.5 22.5t22.5 9.5z"/></svg><span class="t" style="left:32.30px">Mappa</span></a>
<a class="nav " style="top:735.00px"><svg class="abs" style="left:12.10px;top:10.69px;" width="11.57" height="11.57" viewBox="0 -1408 1536 1536" fill="currentColor"><path transform="scale(1,-1)" d="M1024 640q0 106 -75 181t-181 75t-181 -75t-75 -181t75 -181t181 -75t181 75t75 181zM1536 749v-222q0 -12 -8 -23t-20 -13l-185 -28q-19 -54 -39 -91q35 -50 107 -138q10 -12 10 -25t-9 -23q-27 -37 -99 -108t-94 -71q-12 0 -26 9l-138 108q-44 -23 -91 -38 q-16 -136 -29 -186q-7 -28 -36 -28h-222q-14 0 -24.5 8.5t-11.5 21.5l-28 184q-49 16 -90 37l-141 -107q-10 -9 -25 -9q-14 0 -25 11q-126 114 -165 168q-7 10 -7 23q0 12 8 23q15 21 51 66.5t54 70.5q-27 50 -41 99l-183 27q-13 2 -21 12.5t-8 23.5v222q0 12 8 23t19 13 l186 28q14 46 39 92q-40 57 -107 138q-10 12 -10 24q0 10 9 23q26 36 98.5 107.5t94.5 71.5q13 0 26 -10l138 -107q44 23 91 38q16 136 29 186q7 28 36 28h222q14 0 24.5 -8.5t11.5 -21.5l28 -184q49 -16 90 -37l142 107q9 9 24 9q13 0 25 -10q129 -119 165 -170q7 -8 7 -22 q0 -12 -8 -23q-15 -21 -51 -66.5t-54 -70.5q26 -50 41 -98l183 -28q13 -2 21 -12.5t8 -23.5z"/></svg><span class="t" style="left:30.37px">Strumenti</span><svg class="abs" style="left:218.60px;top:13.30px;" width="4.42" height="7.57" viewBox="45 -1075 582 998" fill="currentColor"><path transform="scale(1,-1)" d="M627 992q0 -13 -10 -23l-393 -393l393 -393q10 -10 10 -23t-10 -23l-50 -50q-10 -10 -23 -10t-23 10l-466 466q-10 10 -10 23t10 23l466 466q10 10 23 10t23 -10l50 -50q10 -10 10 -23z"/></svg></a>
<div id="sscroll"></div>
</aside>
</body>
</html>
